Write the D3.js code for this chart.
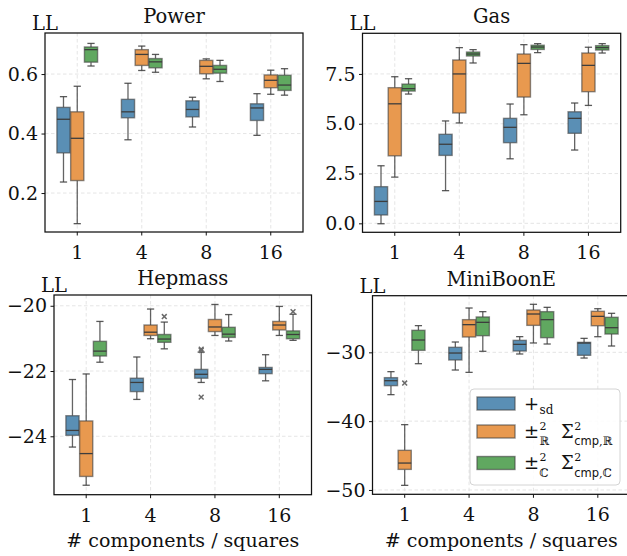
<!DOCTYPE html>
<html>
<head>
<meta charset="utf-8">
<script src="https://cdn.jsdelivr.net/npm/d3@7"></script>
<style>
  html, body { margin: 0; padding: 0; background: #fff; }
  svg { display: block; }
  text { font-family: "DejaVu Serif", serif; fill: #111; }
</style>
</head>
<body>
<svg id="chart" width="627" height="556"></svg>
<script>
// ---------------- DATA ----------------
const categories = ["1", "4", "8", "16"];
const seriesKeys = ["sd", "R", "C"];

// five-number summaries per category: [low whisker, Q1, median, Q3, high whisker]
const powerSd = [[0.237,0.335,0.448,0.488,0.524],[0.379,0.453,0.473,0.515,0.569],[0.422,0.456,0.481,0.510,0.522],[0.394,0.444,0.486,0.500,0.534]];
const powerR  = [[0.097,0.242,0.384,0.473,0.559],[0.612,0.629,0.666,0.682,0.694],[0.584,0.601,0.626,0.646,0.651],[0.532,0.554,0.579,0.597,0.613]];
const powerC  = [[0.627,0.640,0.682,0.691,0.703],[0.606,0.621,0.641,0.652,0.666],[0.575,0.603,0.616,0.629,0.646],[0.529,0.545,0.563,0.596,0.618]];

const gasSd = [[-0.02,0.42,1.10,1.84,2.89],[1.64,3.41,3.97,4.47,5.14],[3.24,4.05,4.82,5.27,5.99],[3.68,4.52,5.27,5.60,6.04]];
const gasR  = [[2.32,3.39,6.00,6.81,7.36],[5.04,5.54,7.50,8.20,8.82],[5.45,6.34,8.03,8.50,8.97],[5.92,6.61,7.93,8.55,8.84]];
const gasC  = [[6.49,6.64,6.76,6.99,7.26],[8.05,8.40,8.50,8.60,8.72],[8.57,8.73,8.85,8.94,9.02],[8.55,8.70,8.82,8.92,9.02]];

const hepSd = [[-24.33,-23.97,-23.82,-23.37,-22.26],[-22.87,-22.63,-22.35,-22.22,-21.57],[-22.35,-22.22,-22.10,-21.95,-21.42],[-22.30,-22.08,-21.95,-21.89,-21.50]];
const hepR  = [[-25.50,-25.23,-24.53,-23.53,-22.09],[-21.01,-20.91,-20.81,-20.59,-20.10],[-20.91,-20.79,-20.65,-20.42,-19.96],[-20.91,-20.74,-20.59,-20.48,-20.02]];
const hepC  = [[-21.73,-21.54,-21.39,-21.09,-20.48],[-21.32,-21.12,-21.02,-20.88,-20.50],[-21.08,-20.97,-20.87,-20.66,-20.27],[-21.06,-21.01,-20.88,-20.77,-20.26]];

const miniSd = [[-36.15,-34.84,-34.12,-33.68,-32.81],[-32.57,-31.11,-30.10,-29.27,-28.50],[-30.24,-29.81,-28.84,-28.26,-27.72],[-30.83,-30.43,-28.65,-28.55,-27.97]];
const miniR  = [[-49.33,-47.01,-46.09,-44.24,-40.51],[-32.91,-27.77,-25.98,-25.25,-23.56],[-28.64,-26.08,-24.43,-23.85,-23.02],[-27.73,-26.13,-24.77,-24.04,-23.66]];
const miniC  = [[-31.65,-29.71,-28.21,-26.80,-26.12],[-29.85,-27.58,-25.64,-24.86,-24.09],[-28.79,-27.87,-25.25,-24.09,-23.46],[-29.08,-27.34,-26.42,-24.91,-24.33]];

// outliers: [series, category, value]
const powerOutliers = [];
const gasOutliers = [];
const hepOutliers = [["sd","8",-21.33],["sd","8",-21.37],["sd","8",-22.80],["C","4",-20.33],["C","16",-20.18]];
const miniOutliers = [["R","1",-34.46]];

const powerTicks = [0.2, 0.4, 0.6], powerTickLabels = ["0.2", "0.4", "0.6"];
const gasTicks = [0, 2.5, 5, 7.5], gasTickLabels = ["0.0", "2.5", "5.0", "7.5"];
const hepTicks = [-24, -22, -20], hepTickLabels = ["\u221224", "\u221222", "\u221220"];
const miniTicks = [-50, -40, -30], miniTickLabels = ["\u221250", "\u221240", "\u221230"];

const titles = ["Power", "Gas", "Hepmass", "MiniBoonE"];
const yLabel = "LL";
const xLabel = "# components / squares";

// ---------------- STYLE / LAYOUT ----------------
const colors = { sd: "#5a8fb5", R: "#e8994f", C: "#60a860" };
const lineCol = "#3d3d3d";

const panels = [
  { title: titles[0], box: [45, 303, 33, 232],       domain: [0.069, 0.738], ticks: powerTicks, labels: powerTickLabels, data: { sd: powerSd, R: powerR, C: powerC }, outliers: powerOutliers, xlab: false },
  { title: titles[1], box: [362.5, 620.7, 33.3, 232.3], domain: [-0.45, 9.54], ticks: gasTicks, labels: gasTickLabels, data: { sd: gasSd, R: gasR, C: gasC }, outliers: gasOutliers, xlab: false },
  { title: titles[2], box: [54, 311.5, 295, 494.7],  domain: [-25.79, -19.67], ticks: hepTicks, labels: hepTickLabels, data: { sd: hepSd, R: hepR, C: hepC }, outliers: hepOutliers, xlab: true },
  { title: titles[3], box: [372.5, 630, 295.7, 494.3], domain: [-50.63, -21.77], ticks: miniTicks, labels: miniTickLabels, data: { sd: miniSd, R: miniR, C: miniC }, outliers: miniOutliers, xlab: true }
];

const svg = d3.select("#chart");

panels.forEach(p => {
  const [L, R, T, B] = p.box;
  const x = d3.scaleBand().domain(categories).range([L, R]).padding(0);
  const bw = x.bandwidth();
  const hue = d3.scaleBand().domain(seriesKeys).range([bw * 0.18, bw * 0.82]).padding(0);
  const hw = hue.bandwidth();
  const y = d3.scaleLinear().domain(p.domain).range([B, T]);
  const g = svg.append("g");

  // grid
  const grid = g.append("g").attr("stroke", "#e2e2e2").attr("stroke-width", 0.9).attr("stroke-dasharray", "3.5,2.5");
  grid.selectAll(".gy").data(p.ticks).join("line")
    .attr("x1", L).attr("x2", R).attr("y1", d => y(d)).attr("y2", d => y(d));
  grid.selectAll(".gx").data(categories).join("line")
    .attr("x1", d => x(d) + bw / 2).attr("x2", d => x(d) + bw / 2).attr("y1", T).attr("y2", B);

  // boxes
  seriesKeys.forEach(k => {
    const stats = p.data[k];
    const bg = g.append("g");
    const items = categories.map((c, i) => ({ c, s: stats[i] }));
    const cx = d => x(d.c) + hue(k) + hw / 2;
    const w = hw - 0.6;
    const cap = w * 0.55;
    bg.selectAll(".wl").data(items).join("line")
      .attr("x1", cx).attr("x2", cx).attr("y1", d => y(d.s[0])).attr("y2", d => y(d.s[1]))
      .attr("stroke", lineCol).attr("stroke-opacity", 0.8).attr("stroke-width", 1.3);
    bg.selectAll(".wh").data(items).join("line")
      .attr("x1", cx).attr("x2", cx).attr("y1", d => y(d.s[3])).attr("y2", d => y(d.s[4]))
      .attr("stroke", lineCol).attr("stroke-opacity", 0.8).attr("stroke-width", 1.3);
    bg.selectAll(".cl").data(items).join("line")
      .attr("x1", d => cx(d) - cap / 2).attr("x2", d => cx(d) + cap / 2).attr("y1", d => y(d.s[0])).attr("y2", d => y(d.s[0]))
      .attr("stroke", lineCol).attr("stroke-opacity", 0.85).attr("stroke-width", 1.3);
    bg.selectAll(".ch").data(items).join("line")
      .attr("x1", d => cx(d) - cap / 2).attr("x2", d => cx(d) + cap / 2).attr("y1", d => y(d.s[4])).attr("y2", d => y(d.s[4]))
      .attr("stroke", lineCol).attr("stroke-opacity", 0.85).attr("stroke-width", 1.3);
    bg.selectAll(".bx").data(items).join("rect")
      .attr("x", d => cx(d) - w / 2).attr("width", w)
      .attr("y", d => y(d.s[3])).attr("height", d => Math.max(0.5, y(d.s[1]) - y(d.s[3])))
      .attr("fill", colors[k]).attr("stroke", lineCol).attr("stroke-opacity", 0.6).attr("stroke-width", 1.4);
    bg.selectAll(".md").data(items).join("line")
      .attr("x1", d => cx(d) - w / 2).attr("x2", d => cx(d) + w / 2).attr("y1", d => y(d.s[2])).attr("y2", d => y(d.s[2]))
      .attr("stroke", lineCol).attr("stroke-width", 1.3);
  });

  // outliers (x markers)
  const om = 2.4;
  const og = g.append("g").attr("stroke", "#6a6a6a").attr("stroke-width", 1.5);
  p.outliers.forEach(o => {
    const cx = x(o[1]) + hue(o[0]) + hw / 2, cy = y(o[2]);
    og.append("path").attr("d", `M${cx - om},${cy - om}L${cx + om},${cy + om}M${cx - om},${cy + om}L${cx + om},${cy - om}`);
  });

  // spines
  g.append("rect").attr("x", L).attr("y", T).attr("width", R - L).attr("height", B - T)
    .attr("fill", "none").attr("stroke", "#111").attr("stroke-width", 1.25);

  // y axis
  const ya = d3.axisLeft(y).tickValues(p.ticks).tickFormat((d, i) => p.labels[i]).tickSize(3.5).tickPadding(3.5);
  const yg = g.append("g").attr("transform", `translate(${L},0)`).call(ya);
  yg.select(".domain").remove();
  yg.selectAll(".tick line").attr("stroke", "#111").attr("stroke-width", 1);
  yg.selectAll(".tick text").attr("font-family", "DejaVu Serif").attr("font-size", 19).attr("fill", "#111");

  // x axis
  const xa = d3.axisBottom(x).tickSize(3.5).tickPadding(10);
  const xg = g.append("g").attr("transform", `translate(0,${B})`).call(xa);
  xg.select(".domain").remove();
  xg.selectAll(".tick line").attr("stroke", "#111").attr("stroke-width", 1);
  xg.selectAll(".tick text").attr("font-family", "DejaVu Serif").attr("font-size", 19).attr("fill", "#111");

  g.append("text").attr("x", (L + R) / 2).attr("y", T - 10).attr("text-anchor", "middle")
    .attr("font-size", 19.5).text(p.title);
  g.append("text").attr("x", L - 13).attr("y", T - 3).attr("font-size", 19.5).text(yLabel);
  if (p.xlab) {
    g.append("text").attr("x", (L + R) / 2).attr("y", 547).attr("text-anchor", "middle")
      .attr("font-size", 19).text(xLabel);
  }
});

// ---------------- LEGEND (in MiniBoonE panel) ----------------
const lg = svg.append("g");
lg.append("rect").attr("x", 470).attr("y", 389).attr("width", 150).attr("height", 96).attr("rx", 4)
  .attr("fill", "#fff").attr("fill-opacity", 0.85).attr("stroke", "#d4d4d4").attr("stroke-width", 1);
const rowsY = [403.5, 431.5, 463];
seriesKeys.forEach((k, i) => {
  lg.append("rect").attr("x", 477).attr("y", rowsY[i] - 6.5).attr("width", 38).attr("height", 13)
    .attr("fill", colors[k]).attr("stroke", lineCol).attr("stroke-opacity", 0.6).attr("stroke-width", 1.4);
});
const sans = "DejaVu Sans";
function t(xp, yp, str, size, fam) {
  return lg.append("text").attr("x", xp).attr("y", yp).attr("font-size", size)
    .attr("font-family", fam || "DejaVu Serif").text(str);
}
function right(sel) { return +sel.attr("x") + sel.node().getComputedTextLength(); }
// row 1: +_sd
const plus = t(524, 410, "+", 18);
t(right(plus) + 0.5, 413.5, "sd", 12, sans);
// rows 2 & 3
[["\u211D", rowsY[1]], ["\u2102", rowsY[2]]].forEach(([sym, cy]) => {
  const base = cy + 6;
  const pm = t(524, base, "\u00B1", 18);
  const sx = right(pm) + 0.5;
  t(sx, base - 8, "2", 11);
  t(sx, base + 7.5, sym, 11.5);
  const sg = t(561, base, "\u03A3", 18);
  const gx = right(sg) + 0.5;
  t(gx, base - 8, "2", 11);
  const sub = lg.append("text").attr("x", gx).attr("y", base + 7.5).attr("font-size", 11.5);
  sub.append("tspan").attr("font-family", sans).text("cmp");
  sub.append("tspan").attr("font-family", "DejaVu Serif").text("," + sym);
});
</script>
</body>
</html>
